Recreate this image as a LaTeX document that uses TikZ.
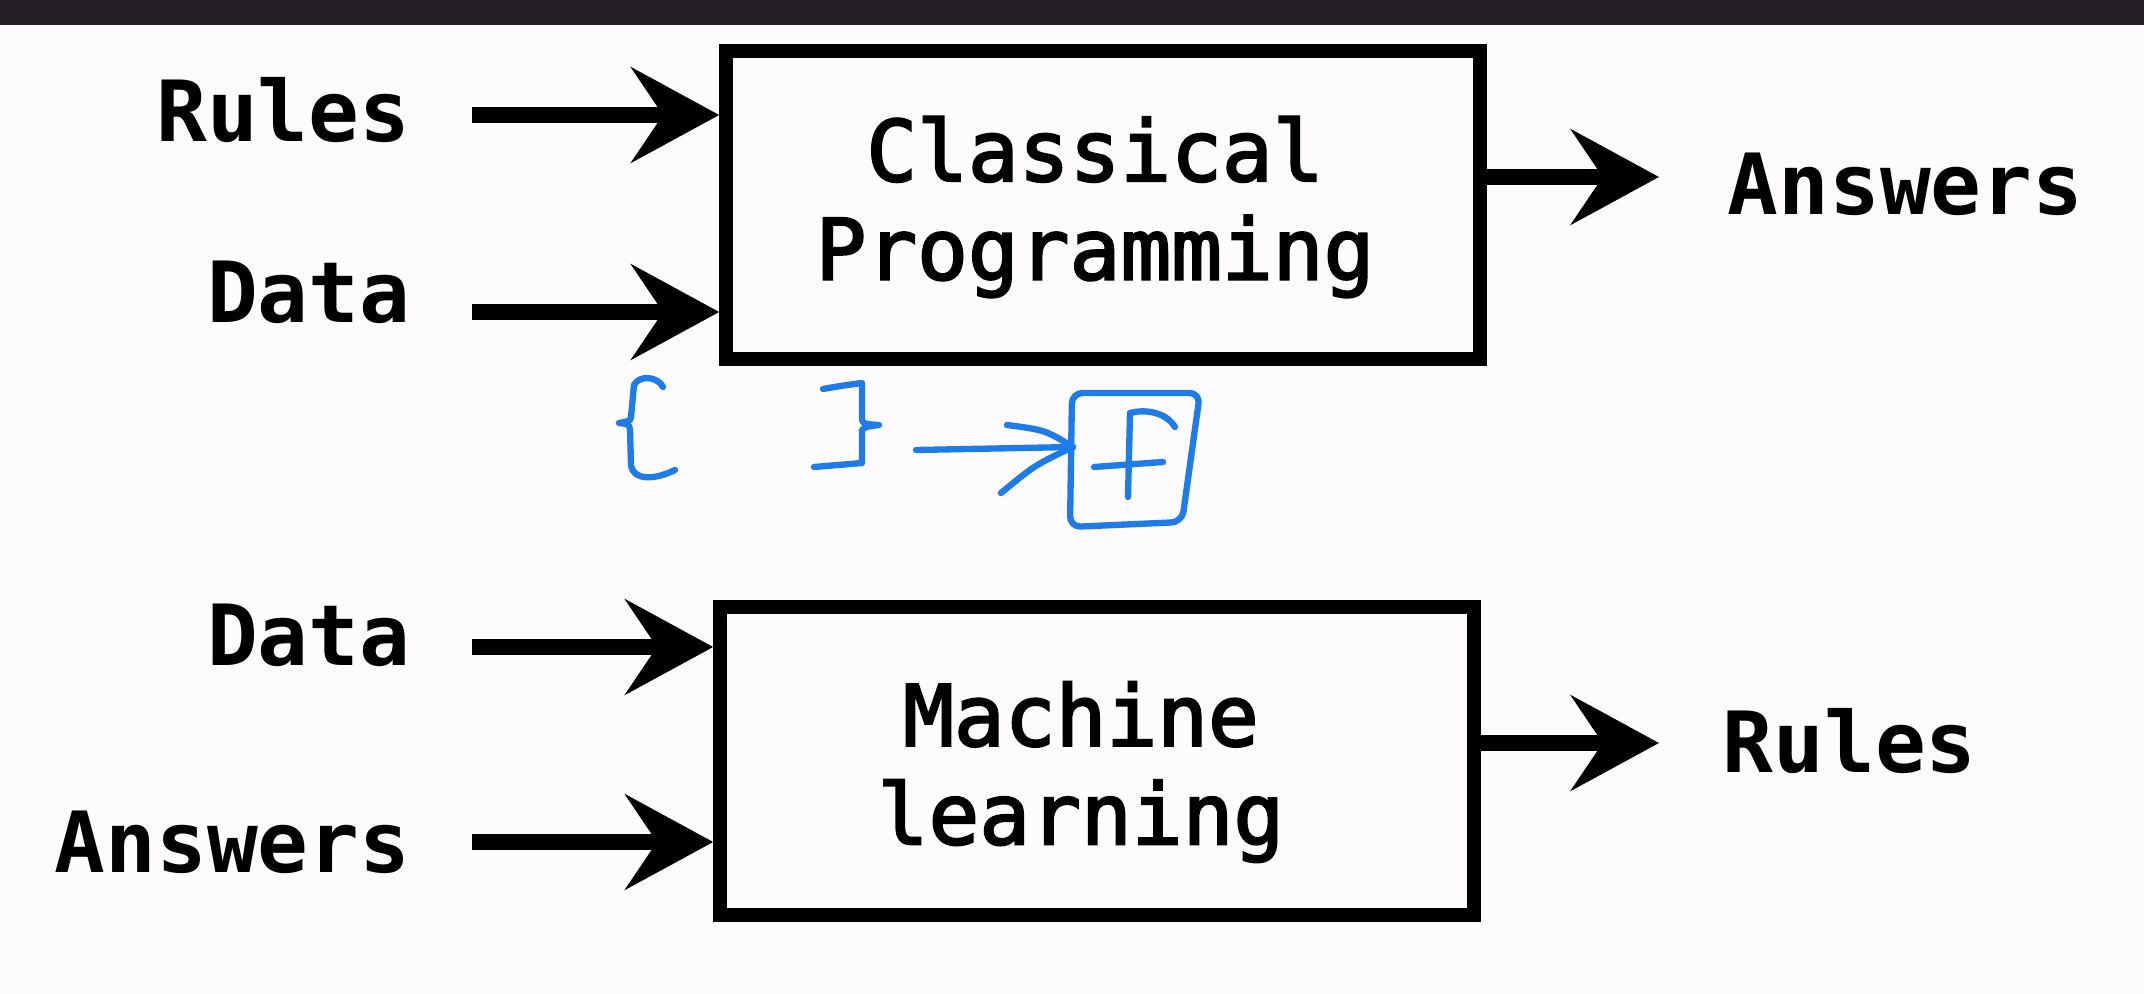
\documentclass[tikz,border=0pt]{standalone}
\usepackage{fontspec}
\setmonofont{DejaVu Sans Mono}
\newfontfamily\boxfont[FakeBold=2.6]{DejaVu Sans Mono}
\usetikzlibrary{arrows.meta}
\definecolor{topbar}{RGB}{35,31,36}
\definecolor{paper}{RGB}{253,251,253}
\definecolor{pen}{RGB}{30,124,232}

\begin{document}
\begin{tikzpicture}[x=0.01cm,y=-0.01cm,
    box node/.style={draw,line width=4pt,minimum width=7.53cm,minimum height=3.08cm,inner sep=0pt},
    box text/.style={inner sep=0pt,align=center,font=\boxfont\fontsize{24}{28}\selectfont},
    word node/.style={inner sep=0pt,font=\ttfamily\bfseries\fontsize{24}{28}\selectfont},
    flow/.style={line width=4.3pt,-{Stealth[length=25pt,width=27pt,inset=9pt]}},
    ink/.style={draw=pen,line width=1.8pt,line cap=round,line join=round}]

    % page and dark strip on top
    \fill[paper] (0,0) rectangle (2144,994);
    \useasboundingbox (0,0) rectangle (2144,994);
    \fill[topbar] (0,0) rectangle (2144,25);

    % the two boxes
    \node[box node] (classic) at (1103,205) {};
    \node[box text] (classic text) at (1095,207) {Classical\\Programming};
    \node[box node] (ml) at (1097,761) {};
    \node[box text] (ml text) at (1081,772) {Machine\\learning};

    % words round them
    \node[word node,anchor=base east] (rules in) at (411,142) {Rules};
    \node[word node,anchor=base east] (data in) at (411,323) {Data};
    \node[word node,anchor=base west] (answers out) at (1727,215) {Answers};
    \node[word node,anchor=base east] (data ml) at (411,665) {Data};
    \node[word node,anchor=base east] (answers ml) at (411,872) {Answers};
    \node[word node,anchor=base west] (rules out) at (1722,772) {Rules};

    % arrow ends
    \coordinate (r0) at (472,115);
    \coordinate (d0) at (472,312);
    \coordinate (a1) at (1659,177);
    \coordinate (d2) at (472,647);
    \coordinate (a2) at (472,842);
    \coordinate (r3) at (1659,743);

    \draw[flow] (r0) -- (r0 -| classic.west);
    \draw[flow] (d0) -- (d0 -| classic.west);
    \draw[flow] (a1 -| classic.east) -- (a1);
    \draw[flow] (d2) -- (d2 -| ml.west);
    \draw[flow] (a2) -- (a2 -| ml.west);
    \draw[flow] (r3 -| ml.east) -- (r3);

    % blue handwriting
    \draw[ink] (663,387) .. controls (658,377) and (640,374) .. (634,385) -- (631,417)
        .. controls (630,421) .. (619,423) .. controls (629,424) .. (630,430) -- (631,465)
        .. controls (633,481) and (655,480) .. (675,470);
    \draw[ink] (823,389) .. controls (840,386) .. (862,383) -- (862,420)
        .. controls (864,424) .. (879,425) .. controls (864,427) .. (862,430)
        -- (862,463) -- (814,467);

    \coordinate (f0) at (916,450);
    \coordinate (ftip) at (1073,447);
    \draw[ink] (f0) -- (ftip);
    \draw[ink] (1007,425) .. controls (1045,430) .. (ftip);
    \draw[ink] (1001,493) .. controls (1035,465) .. (ftip);

    \draw[ink,rounded corners=3pt] (1072,393) -- (1200,393) -- (1182,522) -- (1070,527) -- cycle;
    \draw[ink] (1128,497) -- (1130,413) .. controls (1150,408) and (1168,415) .. (1175,427);
    \draw[ink] (1094,467) -- (1163,462);
\end{tikzpicture}
\end{document}
